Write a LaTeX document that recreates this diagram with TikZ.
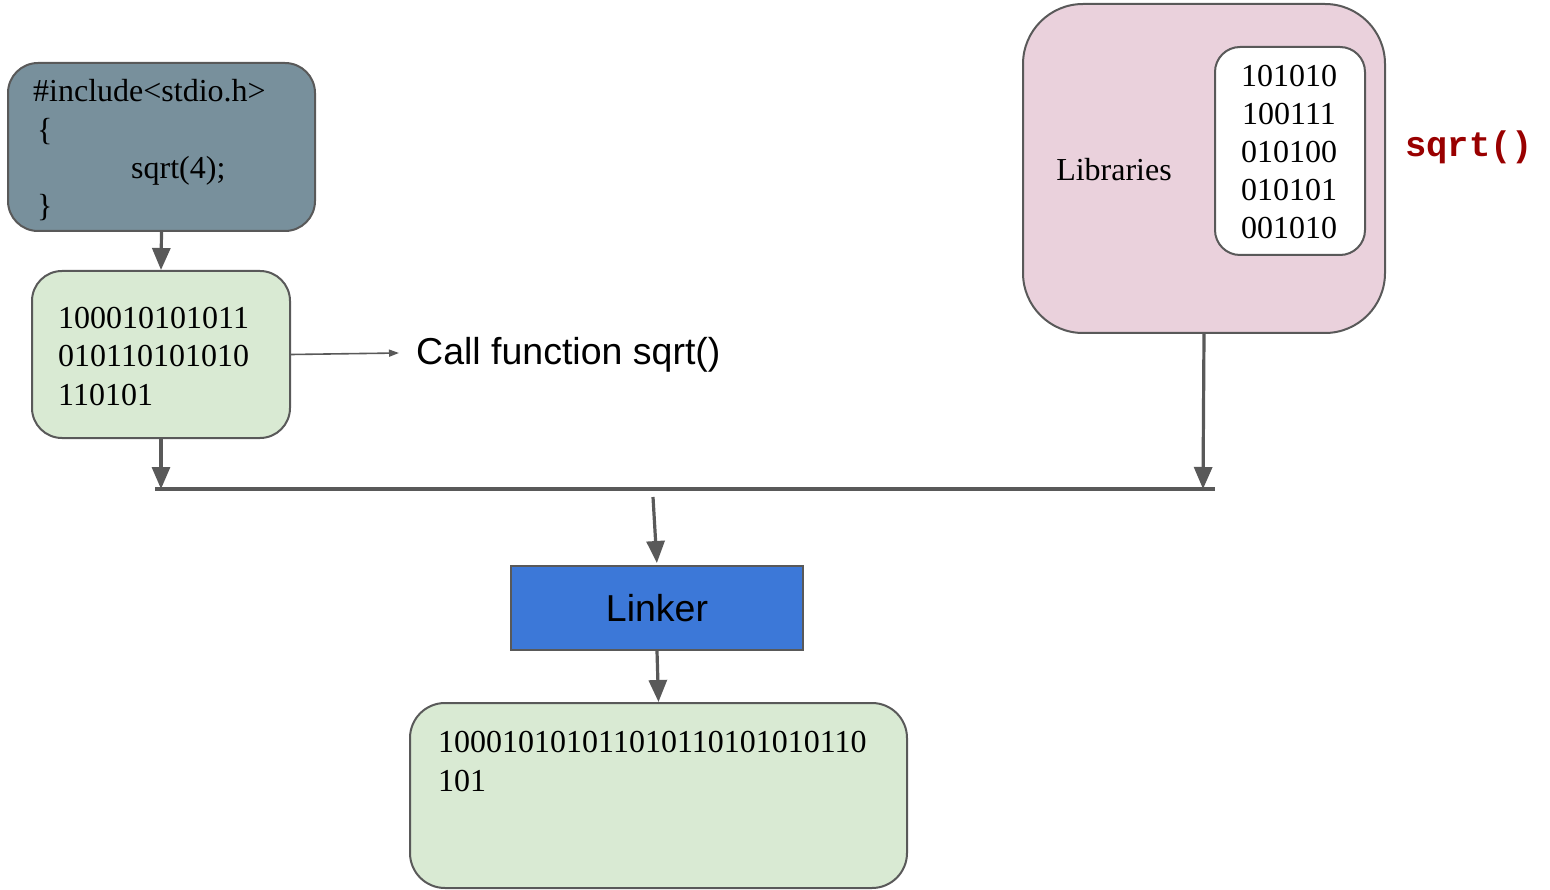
\documentclass[tikz,border=0pt]{standalone}
\usepackage{fontspec}
\setmainfont{Liberation Serif}
\newfontfamily\arialfont{Liberation Sans}
\newfontfamily\monofont{Liberation Mono}
\usetikzlibrary{arrows.meta}
\definecolor{edgegray}{HTML}{595959}
\definecolor{slatefill}{HTML}{78909C}
\definecolor{mintfill}{HTML}{D9EAD3}
\definecolor{pinkfill}{HTML}{EAD1DC}
\definecolor{linkerblue}{HTML}{3C78D8}
\definecolor{codered}{HTML}{990000}
\tikzset{
  box/.style={draw=edgegray, line width=2pt, rectangle, inner sep=0pt},
  serif/.style={inner sep=0pt, font=\fontsize{32}{38}\selectfont},
  sans/.style={inner sep=0pt, font=\arialfont\fontsize{37.5}{44}\selectfont},
  flow/.style={draw=edgegray, line width=3.2pt, -{Triangle[length=22pt,width=18pt]}},
  thinflow/.style={draw=edgegray, line width=1.6pt, -{Triangle[length=10pt,width=7pt]}},
}
\begin{document}
\begin{tikzpicture}[x=1pt, y=-1pt]
\path[use as bounding box] (0,0) rectangle (1550,890);

% source program
\node[box, fill=slatefill, rounded corners=30pt, minimum width=307pt, minimum height=168pt] (src) at (161.5,147) {};
\node[serif, anchor=base west] (src1) at (33,102) {\#include<stdio.h>};
\node[serif, anchor=base west] (src2) at (37,140.3) {\{};
\node[serif, anchor=base west] (src3) at (131,178.6) {sqrt(4);};
\node[serif, anchor=base west] (src4) at (37,216.9) {\}};

% object code
\node[box, fill=mintfill, rounded corners=30pt, minimum width=258pt, minimum height=167pt] (obj) at (161,354.5) {};
\node[serif, anchor=base west] (obj1) at (58,328.5) {100010101011};
\node[serif, anchor=base west] (obj2) at (58,366.8) {010110101010};
\node[serif, anchor=base west] (obj3) at (58,405.1) {110101};

\node[sans, anchor=base west] (call) at (416,365) {Call function sqrt()};

% libraries
\node[box, fill=pinkfill, rounded corners=60pt, minimum width=362pt, minimum height=329pt] (libs) at (1204,168.5) {};
\node[serif, anchor=base] (libname) at (1114,181) {Libraries};
\node[box, fill=white, rounded corners=25pt, minimum width=150pt, minimum height=208pt] (libcode) at (1290,151) {};
\node[serif, anchor=base] (lib1) at (1289,86.5) {101010};
\node[serif, anchor=base] (lib2) at (1289,124.5) {100111};
\node[serif, anchor=base] (lib3) at (1289,162.5) {010100};
\node[serif, anchor=base] (lib4) at (1289,200.5) {010101};
\node[serif, anchor=base] (lib5) at (1289,238.5) {001010};
\node[inner sep=0pt, anchor=base west, text=codered, font=\monofont\bfseries\fontsize{35.5}{40}\selectfont] (sqrtlbl) at (1405,157) {sqrt()};

% linker and executable
\node[box, fill=linkerblue, minimum width=292pt, minimum height=84pt] (linker) at (657,608) {};
\node[sans, anchor=base] (linkerlbl) at (657,621.5) {Linker};
\node[box, fill=mintfill, rounded corners=35pt, minimum width=497pt, minimum height=185pt] (exe) at (658.5,795.5) {};
\node[serif, anchor=base west] (exe1) at (438,752.7) {100010101011010110101010110};
\node[serif, anchor=base west] (exe2) at (438,791) {101};

% connectors
\coordinate (barL) at (155,489);
\coordinate (barR) at (1215,489);
\coordinate (fork) at (653,497);
\coordinate (callpt) at (399,353);
\draw[draw=edgegray, line width=3.2pt] (barL) -- (barR);
\draw[flow] (src.south) -- (obj.north);
\draw[flow] (obj.south) -- (obj.south |- barL);
\draw[flow] (libs.south) -- ([xshift=-1pt]libs.south |- barR);
\draw[flow, shorten >=2pt] (fork) -- (linker.north);
\draw[flow] (linker.south) -- (exe.north);
\draw[thinflow] (obj.east) -- (callpt);
\end{tikzpicture}
\end{document}
